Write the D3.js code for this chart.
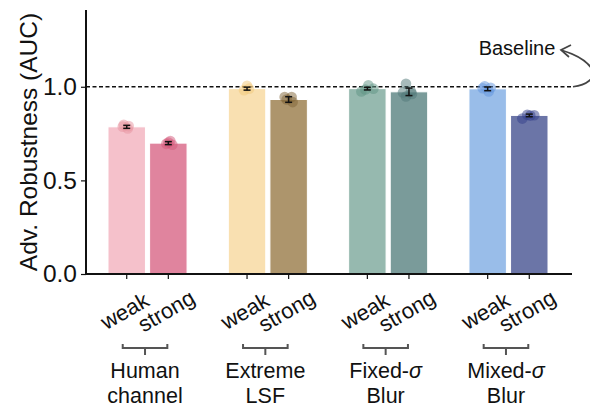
<!DOCTYPE html>
<html>
<head>
<meta charset="utf-8">
<script src="https://cdn.jsdelivr.net/npm/d3@7"></script>
<style>
  html, body { margin: 0; padding: 0; background: #fff; }
  svg { display: block; }
  text { font-family: "Liberation Sans", Arial, sans-serif; fill: #111; }
</style>
</head>
<body>
<svg id="chart" width="590" height="414"></svg>
<script>
// Categories
const groups = ["Human channel", "Extreme LSF", "Fixed-σ Blur", "Mixed-σ Blur"];
const groupLines = [["Human", "channel"], ["Extreme", "LSF"], ["Fixed-", "Blur"], ["Mixed-", "Blur"]];
const groupSigma = [false, false, true, true];
const conditions = ["weak", "strong"];

// Mean AUC per group: [weak, strong]
const meanWeak   = [0.786, 0.990, 0.990, 0.989];
const meanStrong = [0.699, 0.932, 0.973, 0.847];
// Standard error per group
const errWeak    = [0.008, 0.008, 0.007, 0.010];
const errStrong  = [0.008, 0.015, 0.020, 0.007];

// Individual runs (x offset within bar, value)
const runsWeak = [
  [[-3, 0.797], [1, 0.777], [-4, 0.787], [2, 0.790]],
  [[0, 1.005], [-3, 0.982], [2, 0.990]],
  [[-6, 0.975], [1, 1.008], [6, 0.990], [-2, 0.985]],
  [[-3, 1.003], [1, 0.975], [-5, 0.992], [3, 0.995]]
];
const runsStrong = [
  [[2, 0.710], [-2, 0.695], [4, 0.690], [0, 0.702]],
  [[-4, 0.945], [3, 0.945], [4, 0.918], [-2, 0.932]],
  [[-3, 1.016], [-3, 0.948], [3, 0.962], [-6, 0.970], [2, 0.975]],
  [[-7, 0.830], [5, 0.848], [-2, 0.850], [1, 0.846]]
];

// Colours
const barWeak   = ["#F5C1CB", "#F9E0B1", "#96B9AF", "#99BDE9"];
const barStrong = ["#E0849E", "#AD956C", "#7A9B9A", "#6B75A7"];
const dotWeak   = ["#E7939F", "#F2C778", "#5E9484", "#5F93DE"];
const dotStrong = ["#D4577A", "#7F6436", "#4F7777", "#34408C"];

const yTicks = [0.0, 0.5, 1.0];
const baseline = 1.0;

const svg = d3.select("#chart");

const x = d3.scaleBand().domain(groups).range([108, 548]).paddingInner(0.343).paddingOuter(0);
const xc = d3.scaleBand().domain(conditions).range([0, x.bandwidth()]).paddingInner(0.1);
const y = d3.scaleLinear().domain([0, 1.41]).range([274, 10]);

const rows = [];
groups.forEach((g, i) => {
  rows.push({g, i, c: "weak", mean: meanWeak[i], err: errWeak[i], runs: runsWeak[i], fill: barWeak[i], dot: dotWeak[i]});
  rows.push({g, i, c: "strong", mean: meanStrong[i], err: errStrong[i], runs: runsStrong[i], fill: barStrong[i], dot: dotStrong[i]});
});
const cx = d => x(d.g) + xc(d.c) + xc.bandwidth() / 2;

// Bars
svg.append("g").selectAll("rect").data(rows).join("rect")
  .attr("x", d => x(d.g) + xc(d.c))
  .attr("width", xc.bandwidth())
  .attr("y", d => y(d.mean))
  .attr("height", d => y(0) - y(d.mean))
  .attr("fill", d => d.fill)
  .attr("stroke", "#fff")
  .attr("stroke-width", 1);

// Baseline
svg.append("line")
  .attr("x1", 86).attr("x2", 572)
  .attr("y1", y(baseline)).attr("y2", y(baseline))
  .attr("stroke", "#111").attr("stroke-width", 1.3)
  .attr("stroke-dasharray", "4,2.5");

// Individual runs
const dots = svg.append("g");
rows.forEach(d => {
  dots.selectAll(null).data(d.runs).join("circle")
    .attr("cx", r => cx(d) + r[0])
    .attr("cy", r => y(r[1]))
    .attr("r", 5.3)
    .attr("fill", d.dot)
    .attr("fill-opacity", 0.5);
});

// Error bars
const eb = svg.append("g").attr("stroke", "#111").attr("stroke-width", 1.5);
rows.forEach(d => {
  const xm = cx(d);
  eb.append("line").attr("x1", xm).attr("x2", xm).attr("y1", y(d.mean - d.err)).attr("y2", y(d.mean + d.err));
  eb.append("line").attr("x1", xm - 3.5).attr("x2", xm + 3.5).attr("y1", y(d.mean - d.err)).attr("y2", y(d.mean - d.err));
  eb.append("line").attr("x1", xm - 3.5).attr("x2", xm + 3.5).attr("y1", y(d.mean + d.err)).attr("y2", y(d.mean + d.err));
});

// Y axis
const yAxis = svg.append("g").attr("transform", "translate(86,0)")
  .call(d3.axisLeft(y).tickValues(yTicks).tickFormat(d3.format(".1f")).tickSize(5).tickPadding(4));
yAxis.select(".domain").attr("d", `M0,${y(0)}V${y(1.41)}`).attr("stroke", "#111").attr("stroke-width", 2);
yAxis.selectAll(".tick line").attr("stroke", "#111").attr("stroke-width", 1.2);
yAxis.selectAll(".tick text").attr("font-size", 24.5).attr("font-family", "Liberation Sans, Arial, sans-serif").attr("fill", "#111");

// X axis
const xAxisG = svg.append("g").attr("transform", `translate(0,${y(0)})`);
xAxisG.append("line").attr("x1", 85).attr("x2", 572).attr("y1", 0).attr("y2", 0)
  .attr("stroke", "#111").attr("stroke-width", 2);
xAxisG.selectAll("line.tk").data(rows).join("line").attr("class", "tk")
  .attr("x1", cx).attr("x2", cx).attr("y1", 0).attr("y2", 5)
  .attr("stroke", "#111").attr("stroke-width", 1.2);
svg.append("g").selectAll("text").data(rows).join("text")
  .attr("transform", d => `translate(${cx(d) - 2},${y(0) + 37}) rotate(-30)`)
  .attr("text-anchor", "middle")
  .attr("dominant-baseline", "central")
  .attr("font-size", 22)
  .text(d => d.c);

// Group brackets and labels
const br = svg.append("g").attr("stroke", "#555").attr("stroke-width", 2).attr("fill", "none");
groups.forEach((g, i) => {
  const left = x(g) + xc.bandwidth() / 2 - 4;
  const right = x(g) + x.bandwidth() - xc.bandwidth() / 2 - 1;
  const mid = (left + right) / 2;
  br.append("path").attr("d", `M${left},344V348H${right}V344M${mid},348V355`);
  const t = svg.append("text").attr("x", mid).attr("text-anchor", "middle").attr("font-size", 21.5);
  t.append("tspan").attr("x", mid).attr("y", 378).text(groupLines[i][0]);
  if (groupSigma[i]) t.select("tspan").append("tspan").attr("font-style", "italic").text("σ");
  t.append("tspan").attr("x", mid).attr("y", 403).text(groupLines[i][1]);
});

// Y label
svg.append("text")
  .attr("transform", `translate(37,${(y(0) + y(1.41)) / 2}) rotate(-90)`)
  .attr("text-anchor", "middle")
  .attr("font-size", 24.5)
  .text("Adv. Robustness (AUC)");

// Baseline annotation
svg.append("text").attr("x", 517).attr("y", 55).attr("text-anchor", "middle")
  .attr("font-family", "Lato, 'Open Sans', sans-serif").attr("font-size", 20).text("Baseline");
svg.append("path")
  .attr("d", `M573,${y(baseline)} C602,${y(baseline) - 4} 600,62 561,50`)
  .attr("fill", "none").attr("stroke", "#444").attr("stroke-width", 1.7);
svg.append("path")
  .attr("d", "M571,45 L561,50 L569,57")
  .attr("fill", "none").attr("stroke", "#444").attr("stroke-width", 1.7);
</script>
</body>
</html>
